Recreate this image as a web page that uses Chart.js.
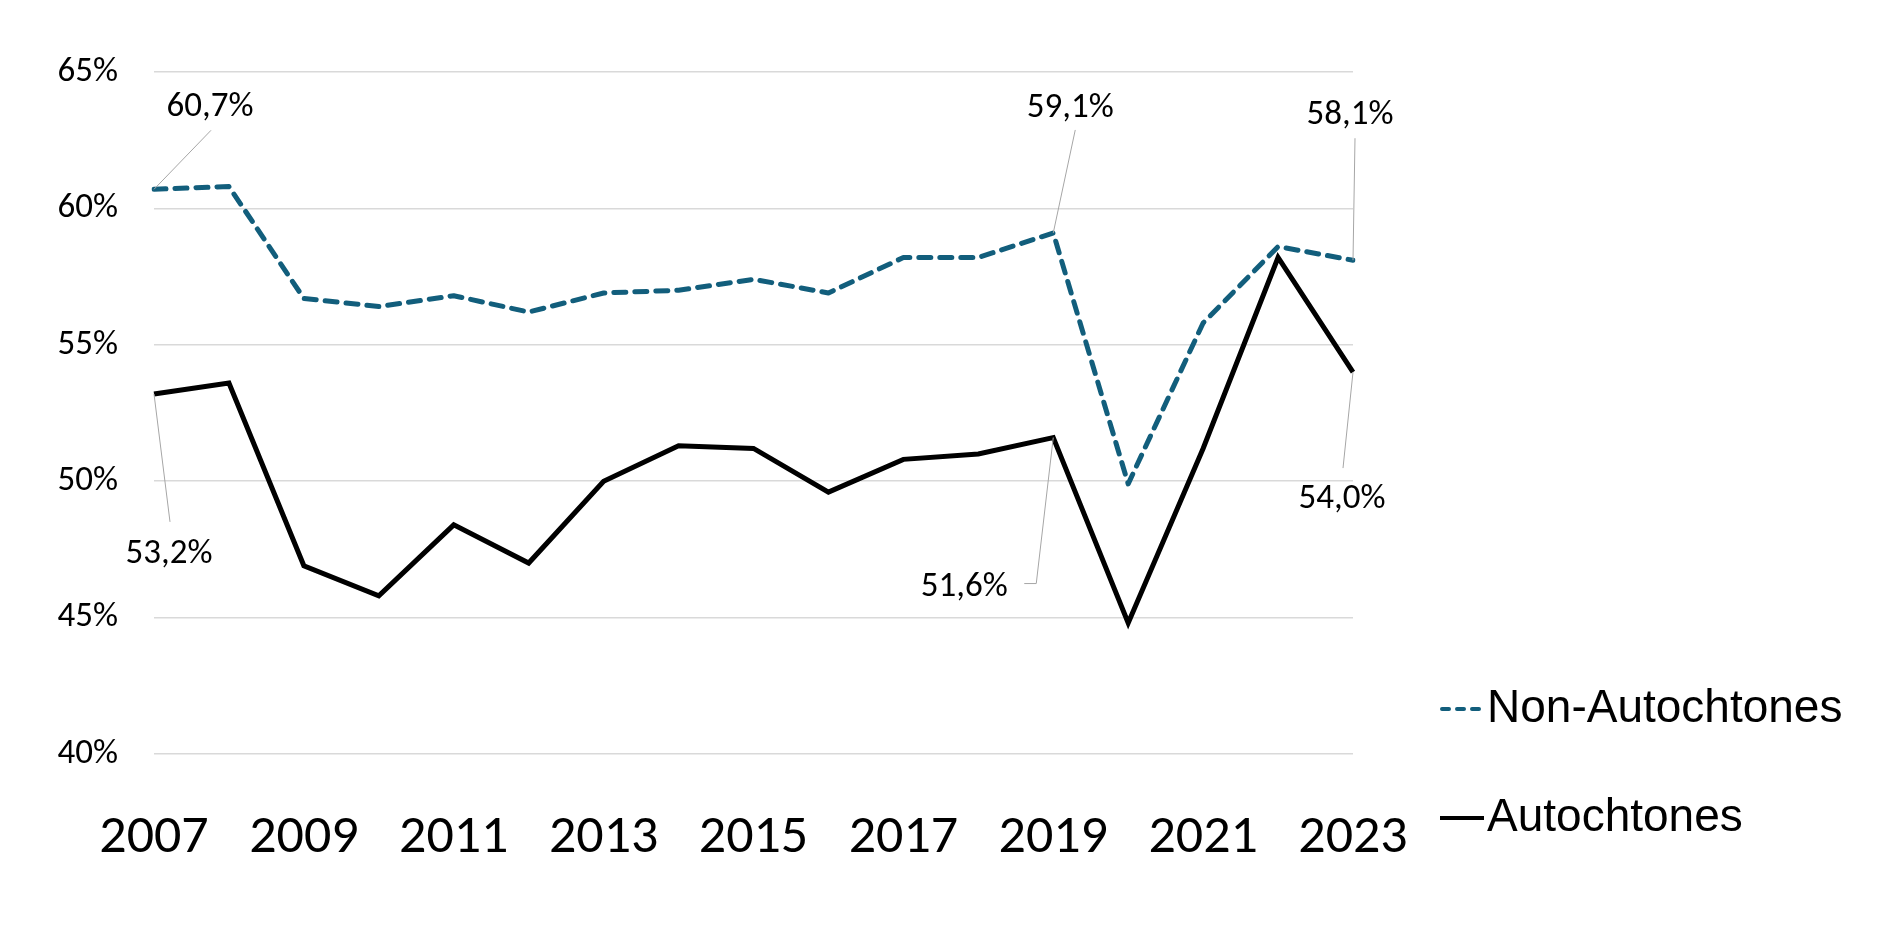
<!DOCTYPE html>
<html>
<head>
<meta charset="utf-8">
<script src="https://cdn.jsdelivr.net/npm/chart.js@4.4.1/dist/chart.umd.min.js"></script>
<style>
  html, body { margin: 0; padding: 0; background: #fff; }
  #wrap { width: 1890px; height: 945px; position: relative; }
</style>
</head>
<body>
<div id="wrap"><canvas id="chart"></canvas></div>
<script>
// data
const years = ['2007', '2008', '2009', '2010', '2011', '2012', '2013', '2014', '2015',
  '2016', '2017', '2018', '2019', '2020', '2021', '2022', '2023'];
const nonAutochtones = [60.7, 60.8, 56.7, 56.4, 56.8, 56.2, 56.9, 57.0, 57.4,
  56.9, 58.2, 58.2, 59.1, 49.9, 55.8, 58.6, 58.1];
const autochtones = [53.2, 53.6, 46.9, 45.8, 48.4, 47.0, 50.0, 51.3, 51.2,
  49.6, 50.8, 51.0, 51.6, 44.8, 51.2, 58.2, 54.0];
const yTicks = [40, 45, 50, 55, 60, 65];
const seriesNames = ['Non-Autochtones', 'Autochtones'];

const TICK_FONT = 'Carlito, Lato, "Open Sans", sans-serif';
const TEAL = '#125e7c';

// labelled points: [dataset, index, label dx, label dy, leader end dx, dy, extra hook dx]
const callouts = [
  [0, 0, 56, -82, 57, -59, null],
  [0, 12, 17, -125, 22, -103, null],
  [0, 16, -3, -145, 2, -122, null],
  [1, 0, 15, 160, 16, 128, null],
  [1, 12, -89, 150, -17, 146, -29],
  [1, 16, -11, 127, -10, 96, null]
];

const fmt = (v) => v.toFixed(1).replace('.', ',') + '%';

const calloutPlugin = {
  id: 'callouts',
  afterDatasetsDraw(chart) {
    const ctx = chart.ctx;
    ctx.save();
    callouts.forEach(([ds, i, lx, ly, ex, ey, hook]) => {
      const pt = chart.getDatasetMeta(ds).data[i];
      const v = chart.data.datasets[ds].data[i];
      ctx.strokeStyle = '#a6a6a6';
      ctx.lineWidth = 1;
      ctx.setLineDash([]);
      ctx.beginPath();
      ctx.moveTo(pt.x, pt.y);
      ctx.lineTo(pt.x + ex, pt.y + ey);
      if (hook !== null) ctx.lineTo(pt.x + hook, pt.y + ey);
      ctx.stroke();
      ctx.fillStyle = '#000';
      ctx.font = '35px ' + TICK_FONT;
      ctx.textAlign = 'center';
      ctx.textBaseline = 'middle';
      ctx.fillText(fmt(v), pt.x + lx, pt.y + ly);
    });
    ctx.restore();
  }
};

// legend at the lower right, short samples next to the names
const legendPlugin = {
  id: 'sideLegend',
  afterDraw(chart) {
    const ctx = chart.ctx;
    const rows = [709, 818];
    ctx.save();
    chart.data.datasets.forEach((d, k) => {
      const y = rows[k];
      ctx.strokeStyle = d.borderColor;
      ctx.lineWidth = 4;
      ctx.lineCap = d.borderDash ? 'round' : 'butt';
      ctx.setLineDash(d.borderDash ? [7, 8] : []);
      ctx.beginPath();
      ctx.moveTo(d.borderDash ? 1442 : 1440, y);
      ctx.lineTo(1484, y);
      ctx.stroke();
      ctx.setLineDash([]);
      ctx.fillStyle = '#000';
      ctx.font = '46px "Liberation Sans", Arial, sans-serif';
      ctx.textAlign = 'left';
      ctx.textBaseline = 'middle';
      ctx.fillText(d.label, 1487, y);
    });
    ctx.restore();
  }
};

new Chart(document.getElementById('chart'), {
  type: 'line',
  data: {
    labels: years,
    datasets: [{
      label: seriesNames[0],
      data: nonAutochtones,
      borderColor: TEAL,
      borderWidth: 5,
      borderDash: [12, 9],
      borderCapStyle: 'round',
      borderJoinStyle: 'round',
      pointRadius: 0,
      tension: 0
    }, {
      label: seriesNames[1],
      data: autochtones,
      borderColor: '#000',
      borderWidth: 5,
      borderJoinStyle: 'miter',
      pointRadius: 0,
      tension: 0
    }]
  },
  options: {
    responsive: true,
    maintainAspectRatio: false,
    devicePixelRatio: 1,
    animation: false,
    layout: { padding: { top: 72, right: 537, left: 0, bottom: 0 } },
    plugins: { legend: { display: false }, tooltip: { enabled: false } },
    scales: {
      x: {
        offset: false,
        grid: { display: false },
        border: { display: false },
        afterFit: (s) => { s.height = 191; },
        ticks: {
          autoSkip: false,
          maxRotation: 0,
          padding: 44,
          color: '#000',
          font: { family: TICK_FONT, size: 54 },
          callback: (v, i) => (i % 2 === 0 ? years[i] : '')
        }
      },
      y: {
        min: yTicks[0],
        max: yTicks[yTicks.length - 1],
        afterFit: (s) => { s.width = 154; },
        afterBuildTicks: (s) => { s.ticks = yTicks.map((v) => ({ value: v })); },
        grid: { color: '#d9d9d9', lineWidth: 1.5, drawTicks: false },
        border: { display: false },
        ticks: {
          padding: 36,
          color: '#000',
          font: { family: TICK_FONT, size: 35 },
          callback: (v) => v + '%'
        }
      }
    }
  },
  plugins: [calloutPlugin, legendPlugin]
});
</script>
</body>
</html>
